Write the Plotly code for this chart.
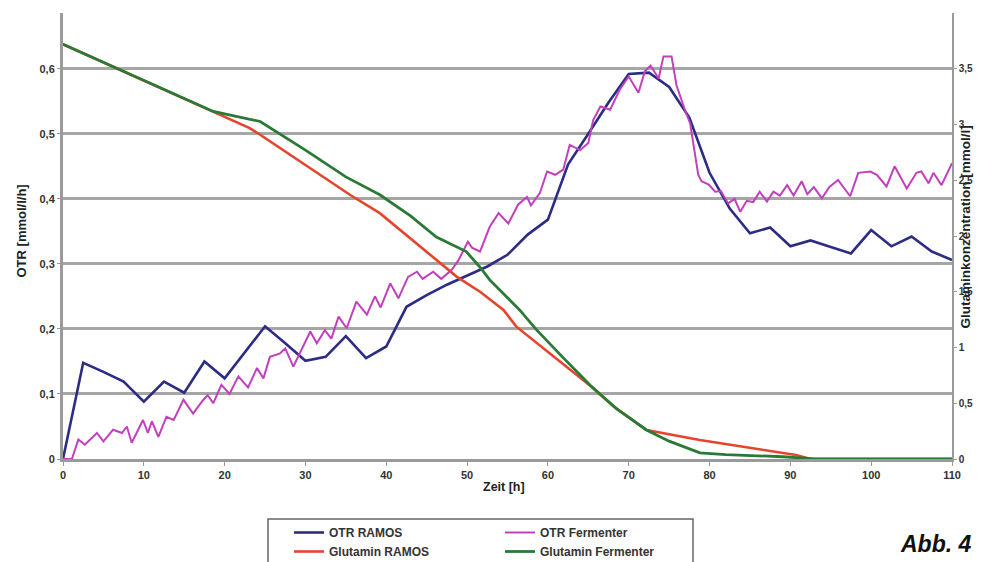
import plotly.graph_objects as go

# ---------------- data ----------------
t_otr_ramos = [0, 2.5, 5, 7.5, 10, 12.5, 15, 17.5, 20, 22.5, 25, 27.5, 30, 32.5, 35, 37.5, 40,
               42.5, 45, 47.5, 50, 52.5, 55, 57.5, 60, 61, 62.5, 65, 67.5, 70, 72.5, 75, 77.5,
               80, 82.5, 85, 87.5, 90, 92.5, 95, 97.5, 100, 102.5, 105, 107.5, 110]
otr_ramos = [0, 0.148, 0.134, 0.119, 0.088, 0.119, 0.102, 0.150, 0.124, 0.164, 0.204, 0.178,
             0.151, 0.157, 0.189, 0.155, 0.173, 0.234, 0.252, 0.268, 0.282, 0.296, 0.314, 0.345,
             0.368, 0.401, 0.453, 0.500, 0.548, 0.592, 0.594, 0.572, 0.525, 0.440, 0.385, 0.347,
             0.356, 0.327, 0.336, 0.326, 0.316, 0.352, 0.327, 0.342, 0.319, 0.306]

t_otr_ferm = [0, 1.1, 1.9, 2.7, 4.2, 5.0, 6.2, 7.3, 7.9, 8.5, 9.9, 10.5, 11.0, 11.8, 12.8, 13.7,
              14.9, 16.1, 17.3, 17.9, 18.6, 19.6, 20.6, 21.7, 22.9, 24.0, 24.8, 25.6, 26.8, 27.5,
              28.5, 29.5, 30.6, 31.4, 32.4, 33.2, 34.1, 35.1, 36.3, 37.6, 38.6, 39.3, 40.5, 41.5,
              42.7, 43.8, 44.5, 45.8, 46.8, 48.1, 48.9, 50.1, 50.6, 51.6, 52.8, 53.9, 55.1, 56.3,
              57.4, 57.9, 59.0, 59.9, 60.9, 61.9, 62.7, 64.0, 65.0, 65.6, 66.5, 67.7, 68.9, 70.0,
              71.2, 72.0, 72.7, 73.7, 74.3, 75.3, 75.9, 77.0, 77.6, 78.6, 79.0, 79.9, 80.7, 81.4,
              82.3, 83.1, 83.8, 84.6, 85.4, 86.2, 87.1, 87.9, 88.7, 89.6, 90.4, 91.4, 92.1, 92.9,
              93.9, 94.8, 95.9, 97.4, 98.4, 99.9, 100.7, 101.9, 102.9, 104.4, 105.6, 106.2, 107.1,
              107.7, 108.7, 110]
otr_ferm = [0.0, 0.0, 0.03, 0.022, 0.04, 0.027, 0.045, 0.04, 0.05, 0.025, 0.06, 0.04, 0.058,
            0.034, 0.065, 0.06, 0.091, 0.07, 0.09, 0.098, 0.086, 0.114, 0.10, 0.127, 0.11, 0.14,
            0.124, 0.157, 0.162, 0.17, 0.142, 0.168, 0.196, 0.178, 0.198, 0.185, 0.219, 0.201,
            0.242, 0.222, 0.25, 0.233, 0.27, 0.247, 0.28, 0.288, 0.277, 0.288, 0.277, 0.291,
            0.305, 0.334, 0.325, 0.319, 0.357, 0.378, 0.362, 0.391, 0.403, 0.39, 0.409, 0.442,
            0.437, 0.445, 0.483, 0.475, 0.486, 0.521, 0.542, 0.537, 0.568, 0.588, 0.563, 0.596,
            0.605, 0.585, 0.619, 0.619, 0.575, 0.535, 0.516, 0.437, 0.427, 0.422, 0.411, 0.412,
            0.393, 0.40, 0.38, 0.397, 0.395, 0.411, 0.396, 0.411, 0.405, 0.421, 0.405, 0.427,
            0.407, 0.418, 0.401, 0.418, 0.429, 0.404, 0.44, 0.442, 0.437, 0.419, 0.45, 0.416,
            0.44, 0.442, 0.424, 0.44, 0.421, 0.455]

t_glut_ramos = [0, 18.6, 23.1, 24.4, 30, 35.5, 39.2, 43, 46.2, 48.7, 51.6, 54.5, 56.1, 60, 62.7,
                65.2, 68, 72.2, 78.8, 84, 90.7, 92.5, 100, 110]
glut_ramos = [3.72, 3.117, 2.968, 2.908, 2.64, 2.37, 2.205, 1.98, 1.786, 1.636, 1.50, 1.337,
              1.187, 0.958, 0.80, 0.66, 0.48, 0.26, 0.17, 0.11, 0.036, 0.0, 0.0, 0.0]

t_glut_ferm = [0, 18.6, 21, 24.4, 30, 35, 39.2, 43, 46.2, 49.9, 51.6, 52.8, 56.5, 58.6, 62,
               65.2, 68.5, 72.2, 75, 78.8, 82, 85, 89.1, 93, 100, 110]
glut_ferm = [3.72, 3.117, 3.08, 3.027, 2.77, 2.53, 2.37, 2.18, 1.99, 1.86, 1.72, 1.606, 1.337,
             1.158, 0.90, 0.664, 0.45, 0.26, 0.16, 0.055, 0.04, 0.03, 0.02, 0.0, 0.0, 0.0]

x_ticks = [0, 10, 20, 30, 40, 50, 60, 70, 80, 90, 100, 110]
y_left_ticks = [0, 0.1, 0.2, 0.3, 0.4, 0.5, 0.6]
y_right_ticks = [0, 0.5, 1, 1.5, 2, 2.5, 3, 3.5]

# ---------------- figure ----------------
FONT = "Liberation Sans"
W, H = 982, 562
ML, MR, MT, MB = 63, 30, 13, 103
PW, PH = W - ML - MR, H - MT - MB


def px_x(p):
    return (p - ML) / PW


def px_y(p):
    return (H - MB - p) / PH


fig = go.Figure()
fig.add_trace(go.Scatter(x=t_otr_ramos, y=otr_ramos, mode="lines", name="OTR RAMOS",
                         line=dict(color="#2c2c85", width=2.6), legend="legend"))
fig.add_trace(go.Scatter(x=t_otr_ferm, y=otr_ferm, mode="lines", name="OTR Fermenter",
                         line=dict(color="#c240bd", width=2), legend="legend2"))
fig.add_trace(go.Scatter(x=t_glut_ramos, y=glut_ramos, mode="lines", name="Glutamin RAMOS",
                         line=dict(color="#e4452c", width=2.6), yaxis="y2", legend="legend"))
fig.add_trace(go.Scatter(x=t_glut_ferm, y=glut_ferm, mode="lines", name="Glutamin Fermenter",
                         line=dict(color="#2a7a35", width=2.8), yaxis="y2", legend="legend2"))

tickfont = dict(family=FONT, size=11, color="#333333", weight="bold")
legfont = dict(family=FONT, size=12, color="#333333", weight="bold")

fig.update_layout(
    width=W, height=H,
    margin=dict(l=ML, r=MR, t=MT, b=MB, autoexpand=False),
    paper_bgcolor="white", plot_bgcolor="white",
    separators=",.",
    font=dict(family=FONT, color="#333333"),
    xaxis=dict(range=[0, 110], tickvals=x_ticks, showgrid=False, zeroline=False,
               showline=True, linecolor="#9a9a9a", linewidth=3,
               ticks="outside", ticklen=4, tickcolor="#9a9a9a", tickwidth=1,
               tickfont=tickfont, fixedrange=True),
    yaxis=dict(range=[0, 0.6 * 4 / 3.5], tickvals=y_left_ticks, showgrid=True,
               gridcolor="#a6a6a6", gridwidth=3, zeroline=False,
               showline=True, linecolor="#9a9a9a", linewidth=3,
               ticks="outside", ticklen=3, tickcolor="#9a9a9a",
               tickfont=tickfont, fixedrange=True),
    yaxis2=dict(range=[0, 4], tickvals=y_right_ticks, overlaying="y", side="right",
                showgrid=False, zeroline=False, showline=True, linecolor="#9a9a9a",
                linewidth=1.5, ticks="outside", ticklen=3, tickcolor="#9a9a9a",
                tickfont=dict(family=FONT, size=10, color="#333333", weight="bold"),
                fixedrange=True),
    legend=dict(x=px_x(289), y=px_y(518), xanchor="left", yanchor="top",
                orientation="v", bgcolor="rgba(0,0,0,0)", borderwidth=0,
                font=legfont, itemwidth=30, tracegroupgap=0),
    legend2=dict(x=px_x(500), y=px_y(518), xanchor="left", yanchor="top",
                 orientation="v", bgcolor="rgba(0,0,0,0)", borderwidth=0,
                 font=legfont, itemwidth=30, tracegroupgap=0),
    shapes=[dict(type="rect", xref="paper", yref="paper",
                 x0=px_x(268), x1=px_x(693), y0=px_y(519), y1=px_y(590),
                 line=dict(color="#666666", width=1.5), fillcolor="rgba(0,0,0,0)",
                 layer="below")],
    annotations=[
        dict(text="OTR [mmol/l/h]", textangle=-90, xref="paper", yref="paper",
             x=px_x(12), y=px_y(231), showarrow=False,
             font=dict(family=FONT, size=13, color="#222222", weight="bold")),
        dict(text="Glutaminkonzentration [mmol/l]", textangle=-90, xref="paper", yref="paper",
             x=px_x(974), y=px_y(227), showarrow=False,
             font=dict(family=FONT, size=13.5, color="#222222", weight="bold")),
        dict(text="Zeit [h]", xref="paper", yref="paper", x=px_x(504), y=px_y(496),
             showarrow=False,
             font=dict(family=FONT, size=12.5, color="#222222", weight="bold")),
        dict(text="<b><i>Abb. 4</i></b>", xref="paper", yref="paper", x=px_x(898),
             y=px_y(559), xanchor="left", yanchor="bottom", showarrow=False,
             font=dict(family=FONT, size=23, color="#111111")),
    ],
)

fig.write_html("out.html")
